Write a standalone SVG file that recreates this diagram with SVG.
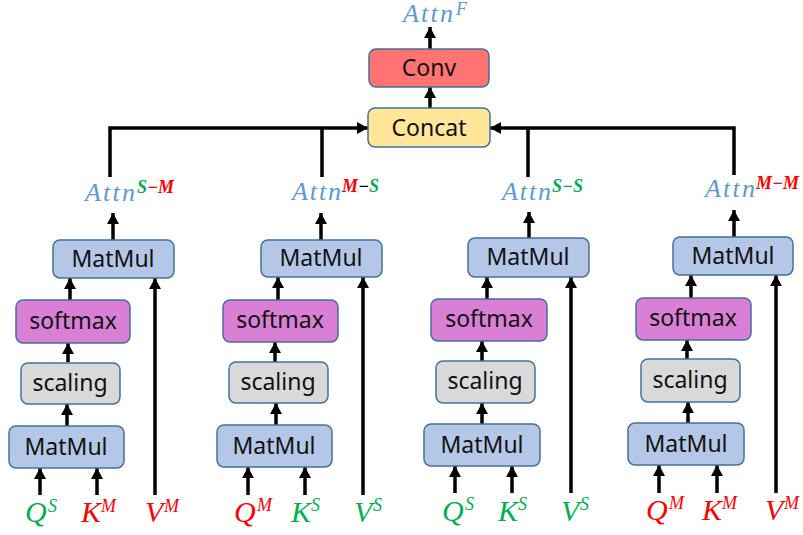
<svg xmlns="http://www.w3.org/2000/svg" width="803" height="535" viewBox="0 0 803 535">
<defs>
<marker id="ah" markerUnits="userSpaceOnUse" markerWidth="13" markerHeight="12" refX="11" refY="6" orient="auto">
<path d="M0,0 L11,6 L0,12 z" fill="#000"/>
</marker>
<style>
.box{stroke:#41719C;stroke-width:1.5}
.mm{fill:#B4C7E7}
.sm{fill:#DA7FD6}
.sc{fill:#D9D9D9}
.conv{fill:#FF7373}
.cat{fill:#FFE699}
.lbl{font-family:"Noto Sans",sans-serif;font-size:23px;fill:#111;text-anchor:middle}
.ln{stroke:#000;stroke-width:3.5;fill:none}
.ar{stroke:#000;stroke-width:3.5;fill:none;marker-end:url(#ah)}
.attn{font-family:"Liberation Serif",serif;font-style:italic;font-size:26px;fill:#5B9BD5}
.sup{font-family:"Liberation Serif",serif;font-style:italic;font-weight:bold;font-size:18px}
.var{font-family:"Liberation Serif",serif;font-style:italic;font-size:30px}
.vsup{font-family:"Liberation Serif",serif;font-style:italic;font-size:18px}
.g{fill:#00B050}
.r{fill:#FF0000}
</style>
</defs>
<g id="connectors">
<line class="ar" x1="430" y1="49" x2="430" y2="27"/>
<line class="ar" x1="430" y1="108" x2="430" y2="87"/>
<polyline class="ar" points="110,177 110,128 368,128"/>
<line class="ln" x1="322" y1="177" x2="322" y2="128"/>
<polyline class="ar" points="734,175 734,128 490,128"/>
<line class="ln" x1="528" y1="177" x2="528" y2="128"/>
<line class="ar" x1="40" y1="495" x2="40" y2="468"/>
<line class="ar" x1="97" y1="495" x2="97" y2="468"/>
<line class="ar" x1="67" y1="426" x2="67" y2="404"/>
<line class="ar" x1="68" y1="362" x2="68" y2="343"/>
<line class="ar" x1="70" y1="300" x2="70" y2="278"/>
<line class="ar" x1="155" y1="495" x2="155" y2="278"/>
<line class="ar" x1="113" y1="240" x2="113" y2="213"/>
<line class="ar" x1="248" y1="495" x2="248" y2="467"/>
<line class="ar" x1="305" y1="495" x2="305" y2="467"/>
<line class="ar" x1="276" y1="425" x2="276" y2="403"/>
<line class="ar" x1="275" y1="362" x2="275" y2="342"/>
<line class="ar" x1="278" y1="300" x2="278" y2="277"/>
<line class="ar" x1="363" y1="495" x2="363" y2="277"/>
<line class="ar" x1="321" y1="240" x2="321" y2="213"/>
<line class="ar" x1="455" y1="493" x2="455" y2="466"/>
<line class="ar" x1="512" y1="493" x2="512" y2="466"/>
<line class="ar" x1="482" y1="424" x2="482" y2="403"/>
<line class="ar" x1="482" y1="361" x2="482" y2="341"/>
<line class="ar" x1="487" y1="299" x2="487" y2="277"/>
<line class="ar" x1="571" y1="493" x2="571" y2="277"/>
<line class="ar" x1="529" y1="238" x2="529" y2="212"/>
<line class="ar" x1="659" y1="493" x2="659" y2="465"/>
<line class="ar" x1="717" y1="493" x2="717" y2="465"/>
<line class="ar" x1="688" y1="423" x2="688" y2="402"/>
<line class="ar" x1="687" y1="359" x2="687" y2="340"/>
<line class="ar" x1="691" y1="298" x2="691" y2="275"/>
<line class="ar" x1="776" y1="493" x2="776" y2="275"/>
<line class="ar" x1="734" y1="237" x2="734" y2="210"/>
</g>
<g id="attnF"><text class="attn" x="403" y="22" textLength="50">Attn</text><text class="vsup" fill="#5B9BD5" x="456" y="15">F</text></g>
<g id="conv"><rect class="box conv" x="369" y="49" width="120" height="38" rx="7"/><text class="lbl" x="429" y="76">Conv</text></g>
<g id="concat"><rect class="box cat" x="368" y="108" width="122" height="39" rx="7"/><text class="lbl" x="429" y="136">Concat</text></g>

<g id="attn1"><text class="attn" x="85" y="201" textLength="50">Attn</text><text class="sup" x="137" y="193"><tspan class="g">S</tspan><tspan class="r">−M</tspan></text></g>
<g id="matmul1"><rect class="box mm" x="53" y="240" width="121" height="38" rx="7"/><text class="lbl" x="113" y="267">MatMul</text></g>
<g id="softmax1"><rect class="box sm" x="16" y="300" width="114" height="43" rx="7"/><text class="lbl" x="73" y="329">softmax</text></g>
<g id="scaling1"><rect class="box sc" x="21" y="363" width="99" height="41" rx="7"/><text class="lbl" x="70" y="391">scaling</text></g>
<g id="matmulb1"><rect class="box mm" x="9" y="426" width="115" height="42" rx="7"/><text class="lbl" x="66" y="455">MatMul</text></g>
<g id="q1"><text class="var g" x="25" y="522">Q</text><text class="vsup g" x="48" y="512">S</text></g>
<g id="k1"><text class="var r" x="81" y="522">K</text><text class="vsup r" x="101" y="512">M</text></g>
<g id="v1"><text class="var r" x="145" y="522">V</text><text class="vsup r" x="164" y="512">M</text></g>

<g id="attn2"><text class="attn" x="292" y="200" textLength="49">Attn</text><text class="sup" x="342" y="192"><tspan class="r">M</tspan><tspan fill="#000">−</tspan><tspan class="g">S</tspan></text></g>
<g id="matmul2"><rect class="box mm" x="261" y="240" width="121" height="37" rx="7"/><text class="lbl" x="321" y="266">MatMul</text></g>
<g id="softmax2"><rect class="box sm" x="223" y="300" width="115" height="42" rx="7"/><text class="lbl" x="280" y="328">softmax</text></g>
<g id="scaling2"><rect class="box sc" x="229" y="362" width="99" height="41" rx="7"/><text class="lbl" x="278" y="390">scaling</text></g>
<g id="matmulb2"><rect class="box mm" x="217" y="425" width="115" height="42" rx="7"/><text class="lbl" x="274" y="454">MatMul</text></g>
<g id="q2"><text class="var r" x="234" y="522">Q</text><text class="vsup r" x="257" y="511">M</text></g>
<g id="k2"><text class="var g" x="291" y="522">K</text><text class="vsup g" x="311" y="511">S</text></g>
<g id="v2"><text class="var g" x="354" y="522">V</text><text class="vsup g" x="373" y="511">S</text></g>

<g id="attn3"><text class="attn" x="502" y="200" textLength="49">Attn</text><text class="sup g" x="552" y="192">S−S</text></g>
<g id="matmul3"><rect class="box mm" x="468" y="238" width="121" height="39" rx="7"/><text class="lbl" x="528" y="265">MatMul</text></g>
<g id="softmax3"><rect class="box sm" x="431" y="299" width="116" height="42" rx="7"/><text class="lbl" x="489" y="327">softmax</text></g>
<g id="scaling3"><rect class="box sc" x="436" y="361" width="99" height="42" rx="7"/><text class="lbl" x="485" y="389">scaling</text></g>
<g id="matmulb3"><rect class="box mm" x="424" y="424" width="116" height="42" rx="7"/><text class="lbl" x="482" y="453">MatMul</text></g>
<g id="q3"><text class="var g" x="442" y="521">Q</text><text class="vsup g" x="465" y="510">S</text></g>
<g id="k3"><text class="var g" x="498" y="521">K</text><text class="vsup g" x="518" y="510">S</text></g>
<g id="v3"><text class="var g" x="561" y="521">V</text><text class="vsup g" x="580" y="510">S</text></g>

<g id="attn4"><text class="attn" x="705" y="197" textLength="50">Attn</text><text class="sup r" x="756" y="189">M−M</text></g>
<g id="matmul4"><rect class="box mm" x="673" y="237" width="120" height="38" rx="7"/><text class="lbl" x="733" y="264">MatMul</text></g>
<g id="softmax4"><rect class="box sm" x="636" y="298" width="115" height="42" rx="7"/><text class="lbl" x="693" y="326">softmax</text></g>
<g id="scaling4"><rect class="box sc" x="641" y="359" width="99" height="43" rx="7"/><text class="lbl" x="690" y="388">scaling</text></g>
<g id="matmulb4"><rect class="box mm" x="628" y="423" width="116" height="42" rx="7"/><text class="lbl" x="686" y="452">MatMul</text></g>
<g id="q4"><text class="var r" x="646" y="520">Q</text><text class="vsup r" x="669" y="509">M</text></g>
<g id="k4"><text class="var r" x="702" y="520">K</text><text class="vsup r" x="722" y="509">M</text></g>
<g id="v4"><text class="var r" x="765" y="520">V</text><text class="vsup r" x="784" y="509">M</text></g>
</svg>
